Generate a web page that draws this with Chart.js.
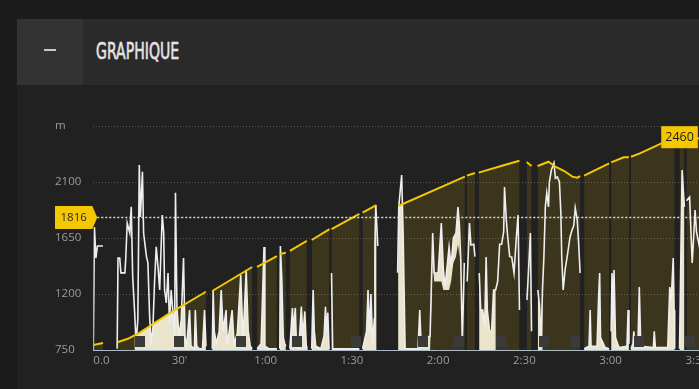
<!DOCTYPE html>
<html>
<head>
<meta charset="utf-8">
<script src="https://cdn.jsdelivr.net/npm/chart.js@4.4.1/dist/chart.umd.min.js"></script>
<style>
html,body{margin:0;padding:0;width:699px;height:389px;overflow:hidden;background:#1b1b1b;}
#card{position:absolute;left:17px;top:19px;width:700px;height:370px;background:#212121;}
#head{position:absolute;left:17px;top:19px;width:700px;height:66px;background:#2a2a2a;}
#sq{position:absolute;left:17px;top:19px;width:66px;height:66px;background:#333333;}
#dash{position:absolute;left:44px;top:49px;width:12px;height:2px;background:#c8c8c8;}
#title{position:absolute;left:96px;top:40px;font-family:'DejaVu Sans Condensed','DejaVu Sans',sans-serif;font-stretch:condensed;font-weight:normal;-webkit-text-stroke:0.6px #e4e4e4;font-size:23px;line-height:23px;color:#e4e4e4;transform:scaleX(0.68);transform-origin:0 0;white-space:nowrap;}
#wrap{position:absolute;left:0;top:85px;width:787px;height:304px;}
</style>
</head>
<body>
<div id="card"></div>
<div id="head"></div>
<div id="sq"></div>
<div id="dash"></div>
<div id="title">GRAPHIQUE</div>
<div id="wrap"><canvas id="c" width="787" height="304"></canvas></div>
<script>
// ---- data (time in minutes, altitude in m) ----
const altitudeTimes = [0,3.4,5,8.4,12,16.2,26.5,39.2,40.3,41.4,55.3,56,57,63.9,64.4,64.9,67,67.7,68.4,74.3,75,76,82.2,82.5,82.9,92.6,93.1,93.7,98.5,102,106.1,129.3,129.6,130,132.8,133.4,134.1,143.1,148.3,149.5,150.8,152.5,153.5,154.6,158.4,160.8,163.9,166.7,168.4,169.4,170,170.8,179.5,179.8,180.2,184.6,186.4,186.7,187.1,190.2,197.7,202.3,203,204,205.7,206,206.4,215];
const altitudeValues = [790,806,null,812,840,889,1045,1218,null,1224,1417,null,1417,1505,null,1521,1532,null,1546,1626,null,1634,1722,null,1722,1843,null,1853,1915,null,1907,2143,null,2151,2172,null,2175,2237,2271,null,2261,2229,null,2229,2263,2223,2188,2143,2135,2148,null,2151,2250,null,2258,2298,2298,null,2303,2330,2411,2452,null,2460,2455,null,2455,2445];

const speedTimes = [
 0,0.4,0.9,1.45,3.35,5,
 8.3,8.6,9.2,9.6,11,11.3,11.8,12.7,13.2,13.7,14.4,14.9,15.5,16,16.4,17.1,17.5,18.5,19,19.6,20.1,20.7,21.3,21.9,22.5,23.1,23.6,24,24.5,24.8,25.4,26,26.5,27.1,27.7,28.3,28.6,29.1,29.8,30.6,31.4,31.9,32.5,33.5,34,35.2,35.5,36,36.9,38,38.7,39.2,40.3,
 41.4,41.7,42.1,42.8,43.8,44.5,45.2,46.2,46.6,47.3,48.3,49,50.1,51.3,52.1,53.2,53.9,54.6,55.3,56,
 57,58.4,59.4,59.7,61.1,63.9,64.4,
 64.9,65.1,65.6,66.1,66.6,67,67.7,
 68.4,69.3,69.6,70.3,70.7,71.5,72.4,72.9,73.6,74.1,74.3,75,
 76,76.5,76.9,77.4,79.2,80.3,80.8,81.1,81.6,82,82.2,82.5,
 82.9,83.3,92.6,93.1,
 93.7,95.1,95.6,96.1,96.6,97.2,97.8,98,98.3,99,102,
 105.9,106.3,107.3,107.8,108.5,113,113.6,114.1,115.2,117.2,118.1,118.6,120,121.1,121.8,122.4,123.8,124.5,125.3,126.2,126.9,127.4,127.9,128.4,129.1,129.6,
 130.1,130.9,131.4,132.4,132.8,133.4,
 134.3,134.8,135.5,136.2,136.7,137.1,137.9,138.6,139.3,140,140.7,141.4,142.1,142.8,143.1,143.7,144.2,144.9,145.6,146.4,147.1,147.8,148.3,149.5,
 150.9,151.4,152.1,152.5,153.5,
 154.7,155.3,155.8,156.3,156.8,157.3,157.8,158.4,158.7,159.4,160.3,160.8,161.5,162.2,162.7,163,163.5,164.2,164.9,165.4,165.9,166.6,167.2,167.7,168.4,168.9,169.4,170,
 170.8,172.5,172.9,173.2,175.3,175.8,176.2,176.5,178.1,179.5,179.8,
 180.2,180.5,180.9,181.2,181.7,182.9,185.7,186.1,186.4,186.7,
 187.1,187.8,188.1,188.5,189.5,190,190.5,194.9,195.2,195.6,199.9,200.6,201.1,201.8,202.1,202.3,203,
 204,204.9,205.4,205.7,206,
 206.4,207.5,208.4,208.9,209.4,209.9,211.6,214.8
];
// upper trace of the white series
const speedValues = [
 750,1738,1489,1586,1586,null,
 760,1489,1489,1370,1370,1489,1770,1690,1900,1340,1047,800,1000,2237,1819,2183,1690,1500,1450,1018,830,900,1286,1580,1420,1232,1580,1835,1690,1232,1128,1369,970,1232,1050,855,2014,1098,860,990,1489,860,780,1071,780,760,1071,780,760,760,1071,780,null,
 760,1232,900,800,900,1232,900,1071,800,900,1071,800,880,1353,820,1393,900,780,760,null,
 760,800,1578,780,760,760,null,
 760,1586,1313,850,800,780,null,
 760,1088,900,1088,780,760,1100,850,1060,780,760,null,
 760,1232,900,780,760,860,1098,900,1050,770,760,null,
 1369,760,760,null,
 760,900,1232,880,1200,800,1000,1600,1915,1586,null,
 1370,1900,2156,1700,760,760,1071,780,850,860,1690,1370,1369,1770,1400,1256,1578,1420,1650,1690,1899,1750,1450,800,1450,null,
 1300,1770,1594,1600,1500,null,
 1369,1071,1071,950,1497,1071,900,900,1232,1232,1300,1600,1600,1700,2060,1800,1660,1500,1497,1369,1620,1835,1071,null,
 1152,1369,1690,900,null,
 1232,1100,800,1232,1500,1900,2012,1900,2100,2196,2253,2130,2140,2100,1850,1497,1232,1400,1500,1580,1658,1714,1750,1891,1795,1600,1369,null,
 760,780,1071,780,780,1150,1369,850,770,760,null,
 900,1369,1000,1393,850,770,780,1071,800,null,
 760,800,900,770,780,1256,780,770,900,770,770,1256,1150,1489,1071,760,null,
 760,2196,2000,1900,null,
 1950,1979,1450,1650,1875,1700,1500,1300
];
// lower edge of the dense (rapidly oscillating) band of the white series; null = single trace only
const speedFloor = [
 null,null,null,null,null,null,
 null,null,null,null,null,null,null,null,null,null,750,750,750,750,750,750,750,750,750,750,750,750,750,750,750,750,750,750,750,750,750,750,750,750,750,750,750,750,750,750,750,750,750,750,750,750,750,750,750,750,750,750,null,
 750,750,750,750,750,750,750,750,750,750,750,750,750,750,750,750,750,750,750,null,
 750,750,750,750,750,750,null,
 750,750,750,750,750,750,null,
 750,750,750,750,750,750,750,750,750,750,750,null,
 750,750,750,750,750,750,750,750,750,750,750,null,
 750,750,750,null,
 750,750,750,750,750,750,750,750,750,750,null,
 750,750,750,750,750,750,750,750,750,750,1500,1300,1300,1300,1232,1232,1232,1300,1450,1500,1600,1500,null,null,null,null,
 null,null,null,null,null,null,
 750,750,750,750,750,750,750,750,750,750,null,null,null,null,null,null,null,null,null,null,null,null,null,null,
 null,null,null,null,null,
 750,750,750,750,null,null,null,null,null,null,null,null,null,null,null,null,null,null,null,null,null,null,null,null,null,null,null,null,
 750,750,750,750,750,750,750,750,750,750,null,
 750,750,750,750,750,750,750,750,750,null,
 750,750,750,750,750,750,750,750,750,750,750,750,750,750,750,750,null,
 750,750,750,750,null,
 null,null,null,null,null,null,null,null
];

const markerTimes = [16.2,29.7,51.3,71.0,91.4,114.9,127.4,141.9,156.8,167.5,189.9,207.8];
const referenceValue = 1816;

const xTickValues = [0,30,60,90,120,150,180,210,240];
const xTickLabels = ['0.0',"30'",'1:00','1:30','2:00','2:30','3:00','3:30','4:00'];
const yTickValues = [750,1200,1650,2100,2550];
const yTickLabels = ['750','1200','1650','2100','m'];

// ---- styles ----
const YELLOW = '#f4c800';
const OLIVE = 'rgba(245,200,0,0.12)';
const CREAM = '#ebe4cd';
const WHITE = '#eeeeee';
const TICK = '#9c9c9c';
const FONT = "'Open Sans', 'Noto Sans', sans-serif";

const altData = altitudeTimes.map((t,i)=>({x:t,y:altitudeValues[i]}));
const spdData = speedTimes.map((t,i)=>({x:t,y:speedValues[i]}));

function areaPath(ctx, pts, bottom){
  let run = [];
  const flush = () => {
    if (run.length > 1) {
      ctx.moveTo(run[0].x, bottom);
      run.forEach(p => ctx.lineTo(p.x, p.y));
      ctx.lineTo(run[run.length-1].x, bottom);
      ctx.closePath();
    }
    run = [];
  };
  pts.forEach(p => { if (p.skip) flush(); else run.push(p); });
  flush();
}

function bandPath(ctx, pts, ys){
  let run = [];
  const flush = () => {
    if (run.length > 1) {
      ctx.moveTo(run[0].p.x, run[0].p.y);
      run.forEach(r => ctx.lineTo(r.p.x, r.p.y));
      for (let k = run.length-1; k >= 0; k--) ctx.lineTo(run[k].p.x, ys.getPixelForValue(run[k].f));
      ctx.closePath();
    }
    run = [];
  };
  pts.forEach((p,i) => {
    const f = speedFloor[i];
    if (p.skip || f === null || f === undefined) flush(); else run.push({p, f});
  });
  flush();
}

const overlay = {
  id: 'overlay',
  beforeDatasetsDraw(chart){
    const ctx = chart.ctx, a = chart.chartArea;
    const alt = chart.getDatasetMeta(0).data;
    const spd = chart.getDatasetMeta(1).data;
    ctx.save();
    ctx.beginPath(); ctx.rect(a.left, a.top, a.right-a.left, a.bottom-a.top); ctx.clip();
    ctx.beginPath(); areaPath(ctx, alt, a.bottom); ctx.clip();
    ctx.beginPath(); bandPath(ctx, spd, chart.scales.y);
    ctx.fillStyle = CREAM; ctx.fill();
    ctx.restore();
  },
  afterDatasetsDraw(chart){
    const ctx = chart.ctx, a = chart.chartArea;
    const xs = chart.scales.x, ys = chart.scales.y;
    ctx.save();
    // markers
    ctx.fillStyle = '#3a3a3a';
    markerTimes.forEach(t => {
      const x = xs.getPixelForValue(t);
      ctx.fillRect(Math.round(x-5), a.bottom-14, 10, 11);
    });
    // reference dotted line + label
    const y = Math.round(ys.getPixelForValue(referenceValue)) + 0.5;
    const tip = a.left + 4;
    ctx.strokeStyle = 'rgba(235,235,235,0.9)';
    ctx.lineWidth = 1.5;
    ctx.setLineDash([2,2]);
    ctx.beginPath(); ctx.moveTo(tip, y); ctx.lineTo(a.right, y); ctx.stroke();
    ctx.setLineDash([]);
    const left = ys.left;
    ctx.fillStyle = YELLOW;
    ctx.beginPath();
    ctx.moveTo(left, y-11.5); ctx.lineTo(tip-5, y-11.5); ctx.lineTo(tip, y);
    ctx.lineTo(tip-5, y+11.5); ctx.lineTo(left, y+11.5); ctx.closePath(); ctx.fill();
    ctx.fillStyle = '#2a2a2a';
    ctx.font = "11.5px " + FONT;
    ctx.textAlign = 'center'; ctx.textBaseline = 'middle';
    ctx.fillText(String(referenceValue), (left + tip - 5)/2, y+0.5);
    // max label
    let mi = 0;
    altitudeValues.forEach((v,i)=>{ if (v !== null && v > altitudeValues[mi]) mi = i; });
    const mx = xs.getPixelForValue(altitudeTimes[mi]);
    const my = ys.getPixelForValue(altitudeValues[mi]);
    ctx.font = "12.5px " + FONT;
    const txt = String(altitudeValues[mi]);
    const w = ctx.measureText(txt).width + 8;
    ctx.fillStyle = YELLOW;
    ctx.fillRect(mx - w/2, my - 11, w, 22);
    ctx.fillStyle = '#1e1e1e';
    ctx.fillText(txt, mx, my + 0.5);
    ctx.restore();
  }
};

new Chart(document.getElementById('c'), {
  type: 'line',
  data: {
    datasets: [
      { label:'Altitude', data: altData, borderColor: YELLOW, borderWidth: 2, backgroundColor: OLIVE,
        fill: 'start', pointRadius: 0, tension: 0, spanGaps: false, order: 0 },
      { label:'Vitesse', data: spdData, borderColor: WHITE, borderWidth: 1.6, fill: false,
        pointRadius: 0, tension: 0, spanGaps: false, order: 1 }
    ]
  },
  options: {
    responsive: false,
    animation: false,
    devicePixelRatio: 1,
    layout: { padding: { left: 55, top: 41, right: 0, bottom: 0 } },
    plugins: {
      legend: { display: false },
      tooltip: { enabled: false },
      filler: { drawTime: 'beforeDatasetsDraw' }
    },
    scales: {
      x: {
        type: 'linear', min: 0, max: 240,
        afterFit(s){ s.height = 39; },
        afterBuildTicks(s){ s.ticks = xTickValues.map(v=>({value:v})); },
        grid: { display: false, drawTicks: false },
        border: { display: true, color: '#aebbc6', width: 1 },
        ticks: { color: TICK, font: { family: FONT, size: 11.5 }, padding: 4, maxRotation: 0,
                 autoSkip: false, align: 'inner',
                 callback: (v) => xTickLabels[xTickValues.indexOf(v)] }
      },
      y: {
        min: 750, max: 2550,
        afterFit(s){ s.width = 38.3; },
        afterBuildTicks(s){ s.ticks = yTickValues.map(v=>({value:v})); },
        grid: { drawTicks: false, lineWidth: 1,
                color: (c) => (c.tick && c.tick.value === 750) ? 'rgba(0,0,0,0)' : '#5a5a5a' },
        border: { display: false, dash: [1,2] },
        ticks: { color: TICK, font: { family: FONT, size: 11.5 }, padding: 0, crossAlign: 'far',
                 callback: (v) => yTickLabels[yTickValues.indexOf(v)] }
      }
    }
  },
  plugins: [overlay]
});
</script>
</body>
</html>
